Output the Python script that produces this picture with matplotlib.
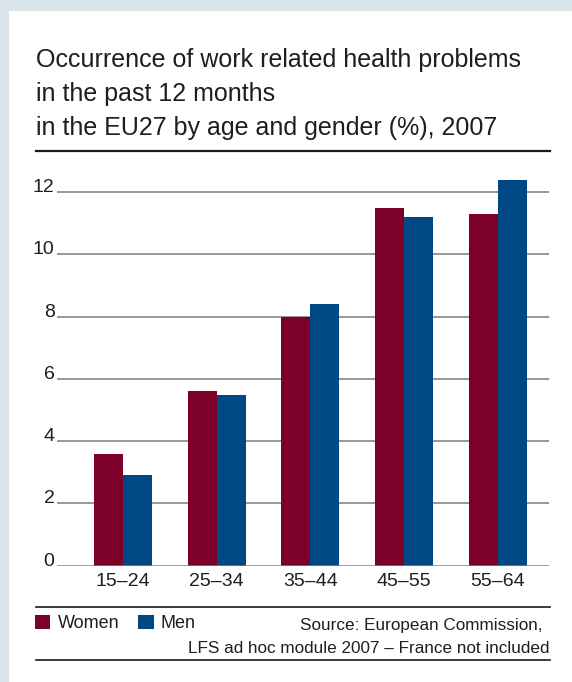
import matplotlib
matplotlib.use("Agg")
import matplotlib.pyplot as plt
from matplotlib import font_manager
from matplotlib.lines import Line2D
from matplotlib.patches import Rectangle
import numpy as np

# Work related health problems by age group, EU27 2007 (%)
age_groups = ["15–24", "25–34", "35–44", "45–55", "55–64"]
women = [3.6, 5.6, 8.0, 11.5, 11.3]
men = [2.9, 5.5, 8.4, 11.2, 12.4]
y_ticks = [0, 2, 4, 6, 8, 10, 12]

title_lines = [
    "Occurrence of work related health problems",
    "in the past 12 months",
    "in the EU27 by age and gender (%), 2007",
]
source_lines = [
    "Source: European Commission,",
    "LFS ad hoc module 2007 – France not included",
]

women_color = "#7c0028"
men_color = "#004884"
text_color = "#1e1e1e"
frame_color = "#dae5eb"

names = {f.name for f in font_manager.fontManager.ttflist}
font = "Liberation Sans Narrow" if "Liberation Sans Narrow" in names else "Liberation Sans"
plt.rcParams["font.family"] = [font, "DejaVu Sans"]

W, H = 572, 682
fig = plt.figure(figsize=(W / 100, H / 100), dpi=100)
fig.patch.set_facecolor(frame_color)

# white card, leaving a light frame on top and left
fig.add_artist(Rectangle((9 / W, 0), 1, 1 - 11 / H, transform=fig.transFigure,
                         facecolor="white", edgecolor="none", zorder=0))

def fx(px):
    return px / W

def fy(py):
    return 1 - py / H

# title
for i, line in enumerate(title_lines):
    fig.text(fx(35.5), fy(66.5 + i * 34.3), line, fontsize=18.0,
             color=text_color, va="baseline", ha="left")

for y_px, lw in [(150.7, 1.6), (607.3, 1.2), (660.3, 1.2)]:
    fig.add_artist(Line2D([fx(35.5), fx(549.5)], [fy(y_px), fy(y_px)],
                          transform=fig.transFigure, color="#1a1a1a", lw=lw))

# plot area
ax_left, ax_right = fx(57.3), fx(549.3)
ax_bottom, ax_top = fy(565.7), fy(167)
ax = fig.add_axes([ax_left, ax_bottom, ax_right - ax_left, ax_top - ax_bottom])
ax.set_facecolor("none")

x = np.arange(len(age_groups))
bw = 0.31
ax.bar(x - bw / 2, women, bw, color=women_color, label="Women", zorder=3)
ax.bar(x + bw / 2, men, bw, color=men_color, label="Men", zorder=3)

ax.set_xlim(-0.699, 4.549)
ax.set_ylim(0, 12.81)

for v in y_ticks[1:]:
    ax.axhline(v, color="#8f8f8f", lw=1.3, zorder=1)
ax.axhline(0, color="#808080", lw=1.8, zorder=4)

ax.set_yticks(y_ticks)
ax.set_yticklabels([str(v) for v in y_ticks])
for lab in ax.get_yticklabels():
    lab.set_verticalalignment("baseline")
ax.set_xticks(x)
ax.set_xticklabels(age_groups)
ax.tick_params(axis="both", length=0, labelsize=14, colors=text_color)
ax.tick_params(axis="y", pad=2)
ax.tick_params(axis="x", pad=5)
for s in ax.spines.values():
    s.set_visible(False)

# legend and source note
handles, labels = ax.get_legend_handles_labels()
fig.legend(handles, labels, loc="upper left", bbox_to_anchor=(fx(35.0), fy(615)),
           ncol=2, frameon=False, fontsize=13, handlelength=0.85, handleheight=0.85,
           handletextpad=0.4, columnspacing=1.05, borderpad=0, borderaxespad=0,
           labelcolor=text_color)

fig.text(fx(543), fy(630), source_lines[0], fontsize=12.3, color=text_color,
         ha="right", va="baseline")
fig.text(fx(549), fy(653.3), source_lines[1], fontsize=12.3, color=text_color,
         ha="right", va="baseline")

fig.savefig("out.png", dpi=100, facecolor=fig.get_facecolor())
